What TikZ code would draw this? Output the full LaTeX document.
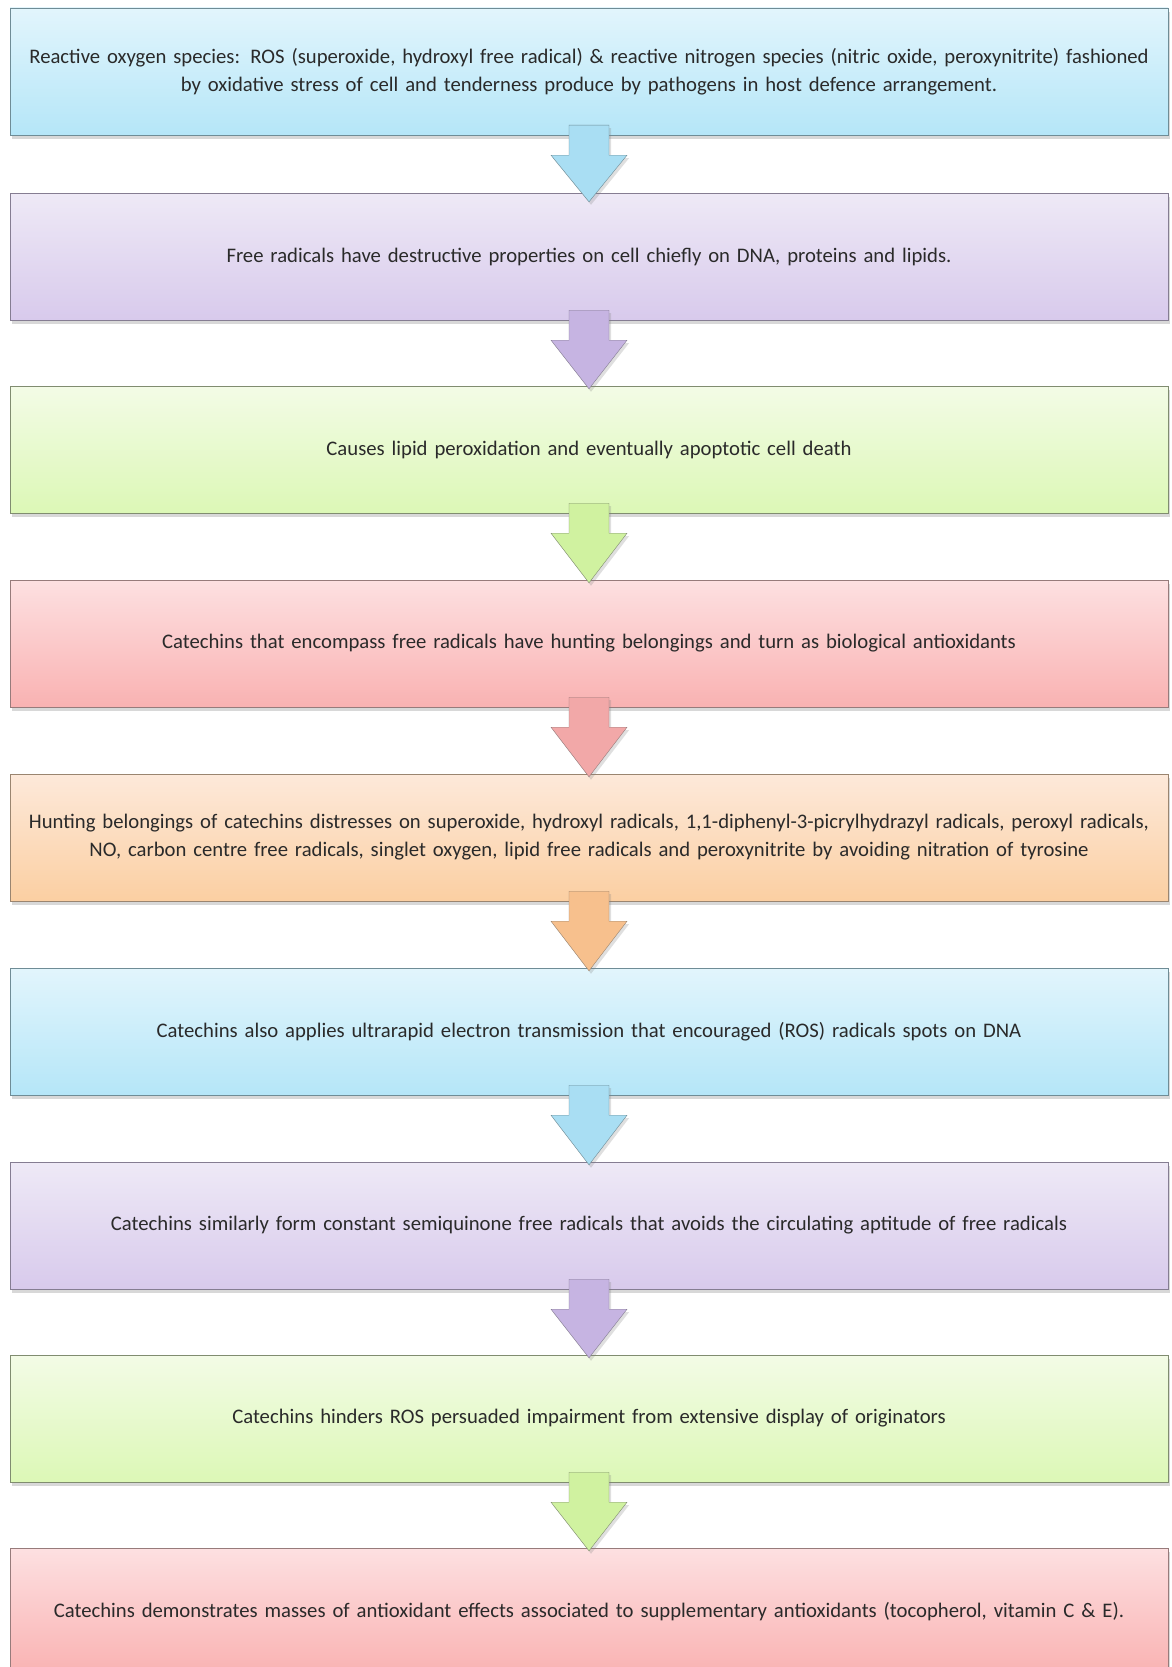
\documentclass[tikz,border=0pt]{standalone}
\usepackage{fontspec}
\setmainfont{Carlito}
\usepackage{tikz}
\usetikzlibrary{positioning, calc, shadows}
\usepackage{xcolor}

\definecolor{bluetop}{HTML}{E2F5FC}
\definecolor{bluebot}{HTML}{B5E6F8}
\definecolor{bluearrow}{HTML}{A9DEF3}
\definecolor{blueedge}{HTML}{6F8C96}
\definecolor{lilactop}{HTML}{EEE9F6}
\definecolor{lilacbot}{HTML}{D8CAEC}
\definecolor{lilacarrow}{HTML}{C6B4E2}
\definecolor{lilacedge}{HTML}{857D92}
\definecolor{greentop}{HTML}{F3FBE6}
\definecolor{greenbot}{HTML}{DCF8B6}
\definecolor{greenarrow}{HTML}{D0F2A0}
\definecolor{greenedge}{HTML}{808C70}
\definecolor{pinktop}{HTML}{FDE0E1}
\definecolor{pinkbot}{HTML}{F9B2B2}
\definecolor{pinkarrow}{HTML}{F2A8A8}
\definecolor{pinkedge}{HTML}{977B7B}
\definecolor{peachtop}{HTML}{FDE9DA}
\definecolor{peachbot}{HTML}{FBCFA2}
\definecolor{peacharrow}{HTML}{F7C08D}
\definecolor{peachedge}{HTML}{9A8570}
\definecolor{textgray}{HTML}{2A2A2A}

\tikzset{
  stepbox/.style={rectangle, draw=#1edge, top color=#1top, bottom color=#1bot,
    minimum width=1158pt, minimum height=127pt, text width=1150pt, align=center,
    inner sep=0pt, text=textgray, font=\fontsize{20.7}{28}\selectfont,
    drop shadow={shadow xshift=2pt, shadow yshift=-4pt, opacity=0.3}},
  pointer/.style={draw=#1edge, fill=#1arrow, line join=miter,
    drop shadow={shadow xshift=2pt, shadow yshift=-3pt, opacity=0.25}}
}

\begin{document}
\begin{tikzpicture}[x=1pt, y=-1pt]
\useasboundingbox[fill=white] (0,0) rectangle (1171,1667);
% boxes
\node[stepbox=blue] (ros) at (589,71.5) {Reactive oxygen species: ROS (superoxide, hydroxyl free radical) \& reactive nitrogen species (nitric oxide, peroxynitrite) fashioned\\ by oxidative stress of cell and tenderness produce by pathogens in host defence arrangement.};
\node[stepbox=lilac] (damage) at (589,256.5) {Free radicals have destructive properties on cell chiefly on DNA, proteins and lipids.};
\node[stepbox=green] (death) at (589,449.5) {Causes lipid peroxidation and eventually apoptotic cell death};
\node[stepbox=pink] (scavenge) at (589,643.5) {Catechins that encompass free radicals have hunting belongings and turn as biological antioxidants};
\node[stepbox=peach] (targets) at (589,837.5) {Hunting belongings of catechins distresses on superoxide, hydroxyl radicals, 1,1-diphenyl-3-picrylhydrazyl radicals, peroxyl radicals,\\ NO, carbon centre free radicals, singlet oxygen, lipid free radicals and peroxynitrite by avoiding nitration of tyrosine};
\node[stepbox=blue] (transfer) at (589,1031.5) {Catechins also applies ultrarapid electron transmission that encouraged (ROS) radicals spots on DNA};
\node[stepbox=lilac] (semiq) at (589,1225.5) {Catechins similarly form constant semiquinone free radicals that avoids the circulating aptitude of free radicals};
\node[stepbox=green] (hinder) at (589,1418.5) {Catechins hinders ROS persuaded impairment from extensive display of originators};
\node[stepbox=pink] (effects) at (589,1611.5) {Catechins demonstrates masses of antioxidant effects associated to supplementary antioxidants (tocopherol, vitamin C \& E).};
% block arrows
\draw[pointer=blue] (ros.south) ++(-20,-10) -- ++(40,0) -- ++(0,30) -- ++(18,0) -- ($(damage.north)+(0,9)$) -- ($(ros.south)+(-38,20)$) -- ++(18,0) -- cycle;
\draw[pointer=lilac] (damage.south) ++(-20,-10) -- ++(40,0) -- ++(0,30) -- ++(18,0) -- ($(death.north)+(0,3)$) -- ($(damage.south)+(-38,20)$) -- ++(18,0) -- cycle;
\draw[pointer=green] (death.south) ++(-20,-10) -- ++(40,0) -- ++(0,30) -- ++(18,0) -- ($(scavenge.north)+(0,3)$) -- ($(death.south)+(-38,20)$) -- ++(18,0) -- cycle;
\draw[pointer=pink] (scavenge.south) ++(-20,-10) -- ++(40,0) -- ++(0,30) -- ++(18,0) -- ($(targets.north)+(0,3)$) -- ($(scavenge.south)+(-38,20)$) -- ++(18,0) -- cycle;
\draw[pointer=peach] (targets.south) ++(-20,-10) -- ++(40,0) -- ++(0,30) -- ++(18,0) -- ($(transfer.north)+(0,3)$) -- ($(targets.south)+(-38,20)$) -- ++(18,0) -- cycle;
\draw[pointer=blue] (transfer.south) ++(-20,-10) -- ++(40,0) -- ++(0,30) -- ++(18,0) -- ($(semiq.north)+(0,3)$) -- ($(transfer.south)+(-38,20)$) -- ++(18,0) -- cycle;
\draw[pointer=lilac] (semiq.south) ++(-20,-10) -- ++(40,0) -- ++(0,30) -- ++(18,0) -- ($(hinder.north)+(0,3)$) -- ($(semiq.south)+(-38,20)$) -- ++(18,0) -- cycle;
\draw[pointer=green] (hinder.south) ++(-20,-10) -- ++(40,0) -- ++(0,30) -- ++(18,0) -- ($(effects.north)+(0,3)$) -- ($(hinder.south)+(-38,20)$) -- ++(18,0) -- cycle;
\end{tikzpicture}
\end{document}
